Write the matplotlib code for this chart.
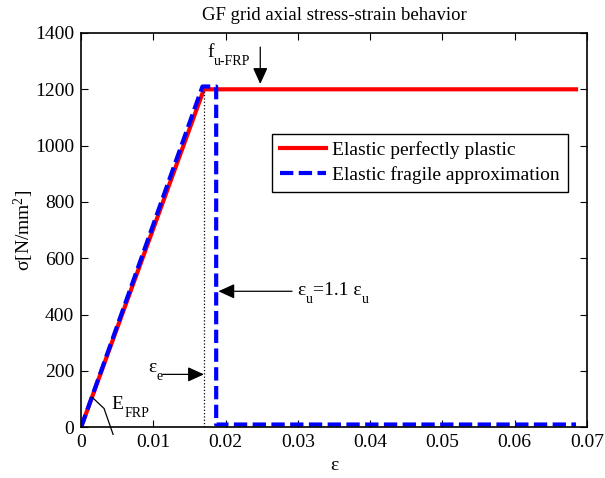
import matplotlib
matplotlib.use("Agg")
import matplotlib.pyplot as plt

plt.rcParams['font.family'] = ['Liberation Serif', 'DejaVu Serif']
plt.rcParams['mathtext.fontset'] = 'custom'
plt.rcParams['mathtext.rm'] = 'Liberation Serif'
plt.rcParams['mathtext.it'] = 'Liberation Serif:italic'
plt.rcParams['font.size'] = 14

# elastic perfectly plastic
eps_pp = [0, 0.017, 0.0685]
sig_pp = [0, 1200, 1200]
# elastic fragile approximation
eps_ef = [0, 0.0168, 0.0187, 0.0187, 0.0685]
sig_ef = [0, 1210, 1210, 10, 10]

eps_e = 0.017
f_u = 1200
xticks = [0, 0.01, 0.02, 0.03, 0.04, 0.05, 0.06, 0.07]
yticks = [0, 200, 400, 600, 800, 1000, 1200, 1400]

fig = plt.figure(figsize=(6.05, 4.78), dpi=100)
ax = fig.add_axes([0.134, 0.106, 0.836, 0.825])

ax.plot(eps_pp, sig_pp, color='red', lw=3, label='Elastic perfectly plastic')
ax.plot(eps_ef, sig_ef, color='blue', lw=3, ls=(0, (3.2, 1.3)),
        label='Elastic fragile approximation')
ax.plot([eps_e, eps_e], [0, f_u], color='black', lw=0.9, ls=':')

ax.set_xlim(0, 0.07)
ax.set_ylim(0, 1400)
ax.set_xticks(xticks)
ax.set_xticklabels(['0', '0.01', '0.02', '0.03', '0.04', '0.05', '0.06', '0.07'])
ax.set_yticks(yticks)
ax.tick_params(direction='in', top=True, right=True, length=5, width=0.8, pad=5)
for s in ax.spines.values():
    s.set_linewidth(1.2)

ax.set_title('GF grid axial stress-strain behavior', fontsize=13.5, pad=9)
ax.set_xlabel('ε', labelpad=4)
ax.set_ylabel(r'σ[N/mm$^2$]', labelpad=-1)


def sub_label(x, y, main, sub):
    # main text + lowered, smaller subscript (matlab tex style)
    t = ax.text(x, y, main, ha='left', va='baseline')
    s = ax.annotate(sub, xy=(1, 0), xycoords=t, xytext=(0.3, -5),
                    textcoords='offset points', fontsize=10,
                    ha='left', va='bottom')
    return t, s


ap = dict(arrowstyle='-|>,head_length=0.55,head_width=0.25', color='black',
          lw=0.9, mutation_scale=18, shrinkA=0, shrinkB=0)

# f_u-FRP
ax.annotate('', xy=(0.0248, 1219), xytext=(0.0248, 1350), arrowprops=ap)
sub_label(0.01743, 1314, 'f', 'u-FRP')

# eps_e
ax.annotate('', xy=(0.01701, 188), xytext=(0.0113, 188), arrowprops=ap)
sub_label(0.00927, 197, 'ε', 'e')

# eps_u
ax.annotate('', xy=(0.0190, 483), xytext=(0.0292, 483), arrowprops=ap)
t1, s1 = sub_label(0.0299, 471, 'ε', 'u')
t2 = ax.annotate('=1.1 ε', xy=(1, 0), xycoords=(s1, t1), xytext=(0.3, 0),
                 textcoords='offset points', ha='left', va='bottom')
ax.annotate('u', xy=(1, 0), xycoords=t2, xytext=(0.3, -5),
            textcoords='offset points', fontsize=10, ha='left', va='bottom')

# E_FRP
ax.plot([0.00152, 0.00318, 0.00443], [107, 67, -25], color='black',
        lw=0.9, clip_on=False)
sub_label(0.00425, 66, 'E', 'FRP')

leg = ax.legend(loc='upper right', bbox_to_anchor=(0.962, 0.745),
                fancybox=False, edgecolor='black', framealpha=1,
                handlelength=2.4, handletextpad=0.3, borderpad=0.4,
                labelspacing=0.35, borderaxespad=0)
leg.get_frame().set_linewidth(1.0)

fig.savefig('out.png', dpi=100)
